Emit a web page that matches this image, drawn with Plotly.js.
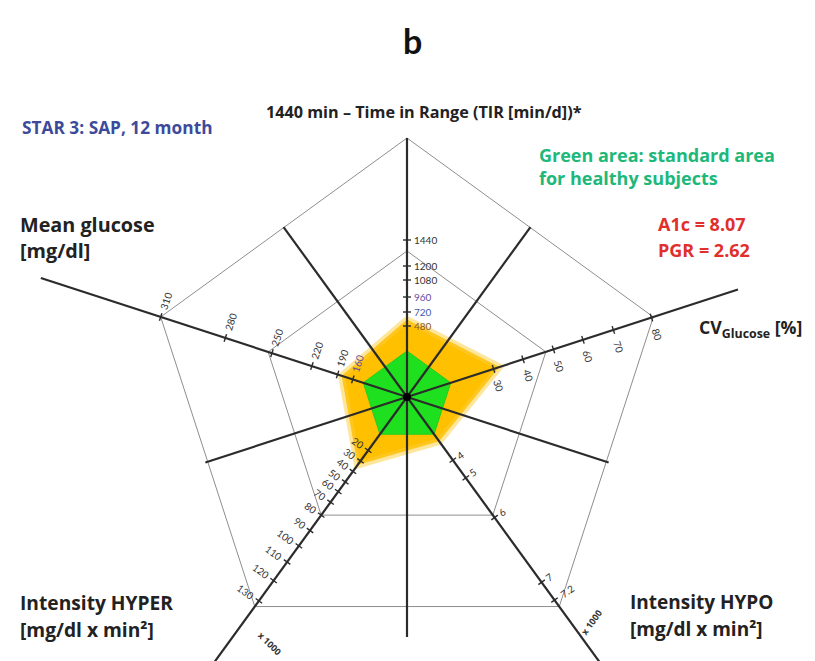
<!DOCTYPE html>
<html><head><meta charset="utf-8">
<script src="https://cdn.plot.ly/plotly-3.0.1.min.js"></script>
<style>html,body{margin:0;padding:0;background:#fff}#chart{width:815px;height:661px}</style>
</head><body><div id="chart"></div>
<script>
// ---------------- data ----------------
const axisKeys = ['TIR', 'CV', 'HYPO', 'HYPER', 'MG'];
const tirTicks = [1440, 1200, 1080, 960, 720, 480];
const cvTicks = [80, 70, 60, 50, 40, 30];
const hypoTicks = [7.2, 7, 6, 5, 4];
const hyperTicks = [130, 120, 110, 100, 90, 80, 70, 60, 50, 40, 30, 20];
const mgTicks = [310, 280, 250, 220, 190, 160];
// green area: standard area for healthy subjects
const healthyValues = [100, 17, 0, 5, 100];
// orange area: STAR 3, SAP, 12 month
const patientValues = [590, 32, 1.1, 34, 182];
const a1cValue = '8.07';
const pgrValue = '2.62';

// ---------------- scales (value -> radius) ----------------
const scaleKnots = {
  TIR:   [[100,46],[480,71],[720,85],[960,100],[1080,117],[1200,131],[1440,157]],
  CV:    [[17,46],[30,91],[40,122],[50,154],[60,185],[70,217],[80,257]],
  HYPO:  [[0,46],[4,78],[5,100],[6,149],[7,229],[7.2,251]],
  HYPER: [[5,46],[20,66],[30,79],[40,92],[50,105],[60,117],[70,130],[80,146],[90,165],[100,184],[110,204],[120,227],[130,252]],
  MG:    [[100,46],[160,57],[190,73],[220,100],[250,142],[280,191],[310,259]]
};
function scale(key, v) {
  const k = scaleKnots[key];
  if (v <= k[0][0]) return k[0][1];
  for (let i = 1; i < k.length; i++) {
    if (v <= k[i][0]) {
      const t = (v - k[i-1][0]) / (k[i][0] - k[i-1][0]);
      return k[i-1][1] + t * (k[i][1] - k[i-1][1]);
    }
  }
  return k[k.length-1][1];
}
const axisAngle = {TIR: 90, CV: 18, HYPO: -54, HYPER: -126, MG: 162};
const axisLength = {TIR: 259, CV: 348, HYPO: 350, HYPER: 350, MG: 385};
const R_OUT = 259, R_IN = 146;
const rad = d => d * Math.PI / 180;
const pt = (r, a) => [r * Math.cos(rad(a)), r * Math.sin(rad(a))];

function polygon(values) {
  const xs = [], ys = [];
  axisKeys.forEach((k, i) => {
    const p = pt(scale(k, values[i]), axisAngle[k]);
    xs.push(p[0]); ys.push(p[1]);
  });
  xs.push(xs[0]); ys.push(ys[0]);
  return {xs, ys};
}
function regular(r) {
  const xs = [], ys = [];
  axisKeys.forEach(k => { const p = pt(r, axisAngle[k]); xs.push(p[0]); ys.push(p[1]); });
  xs.push(xs[0]); ys.push(ys[0]);
  return {xs, ys};
}

const traces = [];
const pat = polygon(patientValues);
traces.push({x: pat.xs, y: pat.ys, mode: 'lines', fill: 'toself', fillcolor: '#FFC000',
  line: {color: 'rgba(255,205,60,0.5)', width: 7}, hoverinfo: 'skip'});
const hea = polygon(healthyValues);
traces.push({x: hea.xs, y: hea.ys, mode: 'lines', fill: 'toself', fillcolor: '#1EE01E',
  line: {color: '#22cc22', width: 1}, hoverinfo: 'skip'});
[R_OUT, R_IN].forEach(r => {
  const g = regular(r);
  traces.push({x: g.xs, y: g.ys, mode: 'lines', line: {color: '#8e8e8e', width: 1}, hoverinfo: 'skip'});
});
// main axes + between lines
const lx = [], ly = [];
axisKeys.forEach(k => {
  const p = pt(axisLength[k], axisAngle[k]);
  lx.push(0, p[0], null); ly.push(0, p[1], null);
});
[[126, 210], [54, 210], [-18, 212], [-90, 240], [198, 212]].forEach(([a, r]) => {
  const p = pt(r, a);
  lx.push(0, p[0], null); ly.push(0, p[1], null);
});
traces.push({x: lx, y: ly, mode: 'lines', line: {color: '#2b2b2b', width: 2.2}, hoverinfo: 'skip'});

// tick marks + labels
const tickSets = {TIR: tirTicks, CV: cvTicks, HYPO: hypoTicks, HYPER: hyperTicks, MG: mgTicks};
const labelSide = {TIR: 0, CV: -72, HYPO: 36, HYPER: 144, MG: 72};
const labelAngle = {TIR: 0, CV: 72, HYPO: -36, HYPER: 36, MG: -72};
const labelGap = {TIR: 0, CV: 11, HYPO: 6, HYPER: 6, MG: 7};
const labelColor = {960: '#6a4ca0', 720: '#3f5aa8', 480: '#8a5a20', 160: '#6a4ca0'};
const tx = [], ty = [];
const annotations = [];
axisKeys.forEach(k => {
  const a = axisAngle[k];
  tickSets[k].forEach(v => {
    const r = scale(k, v);
    const c = pt(r, a);
    const n = pt(4, a + 90);
    tx.push(c[0] - n[0], c[0] + n[0], null); ty.push(c[1] - n[1], c[1] + n[1], null);
    const s = String(v);
    const col = (k === 'TIR' || k === 'MG') && labelColor[v] ? labelColor[v] : '#333';
    if (k === 'TIR') {
      annotations.push({x: 5, y: c[1], xref: 'x', yref: 'y', text: s, showarrow: false,
        xanchor: 'left', yanchor: 'middle', font: {size: 10, color: col}});
    } else {
      const off = pt(labelGap[k] + s.length * 3.3, labelSide[k]);
      annotations.push({x: c[0] + off[0], y: c[1] + off[1], xref: 'x', yref: 'y', text: s, showarrow: false,
        textangle: labelAngle[k], xanchor: 'center', yanchor: 'middle', font: {size: 10, color: col}});
    }
  });
});
traces.push({x: tx, y: ty, mode: 'lines', line: {color: '#2b2b2b', width: 1.4}, hoverinfo: 'skip'});
traces.push({x: [0], y: [0], mode: 'markers', marker: {color: '#000', size: 8}, hoverinfo: 'skip'});

// free texts (pixel positions -> paper)
const W = 815, H = 661;
function txt(text, px, py, size, color, anchor, angle) {
  annotations.push({x: px / W, y: 1 - py / H, xref: 'paper', yref: 'paper', text: '<b>' + text + '</b>',
    showarrow: false, xanchor: anchor || 'left', yanchor: 'middle', textangle: angle || 0,
    font: {size: size, color: color, family: '"Open Sans", Lato, sans-serif'}});
}
txt('x 1000', 270, 643, 9, '#333', 'center', 45);
txt('x 1000', 591, 622, 9, '#333', 'center', -54);
annotations.push({x: 412 / W, y: 1 - 40 / H, xref: 'paper', yref: 'paper', text: '<b>b</b>', showarrow: false,
  xanchor: 'center', yanchor: 'middle', font: {size: 34, color: '#111', family: 'Lato, sans-serif'}});
txt('1440 min – Time in Range (TIR [min/d])*', 424, 112, 16.2, '#222', 'center');
txt('STAR 3: SAP, 12 month', 20, 127, 17.3, '#3d4a9b', 'left');
txt('Green area: standard area', 537, 155, 18, '#1db87a', 'left');
txt('for healthy subjects', 537, 178, 18, '#1db87a', 'left');
txt('A1c = ' + a1cValue, 656, 224, 18, '#e0302c', 'left');
txt('PGR = ' + pgrValue, 656, 250, 18, '#e0302c', 'left');
txt('Mean glucose', 18, 224, 19.8, '#222', 'left');
txt('[mg/dl]', 18, 251, 19.8, '#222', 'left');
txt('CV<sub>Glucose</sub> [%]', 697, 328, 17.7, '#222', 'left');
txt('Intensity HYPER', 18, 602, 19.2, '#222', 'left');
txt('[mg/dl x min²]', 18, 629, 19.2, '#222', 'left');
txt('Intensity HYPO', 628, 602, 19, '#222', 'left');
txt('[mg/dl x min²]', 628, 629, 19, '#222', 'left');

const ax = {visible: false, showgrid: false, zeroline: false, fixedrange: true};
const layout = {
  width: W, height: H, margin: {l: 0, r: 0, t: 0, b: 0},
  paper_bgcolor: '#fff', plot_bgcolor: '#fff', showlegend: false,
  font: {family: 'Lato, "Open Sans", "DejaVu Sans", sans-serif'},
  xaxis: Object.assign({range: [-407, 408]}, ax),
  yaxis: Object.assign({range: [-264, 397]}, ax),
  annotations: annotations
};
Plotly.newPlot('chart', traces, layout, {displayModeBar: false, staticPlot: true});
</script></body></html>
